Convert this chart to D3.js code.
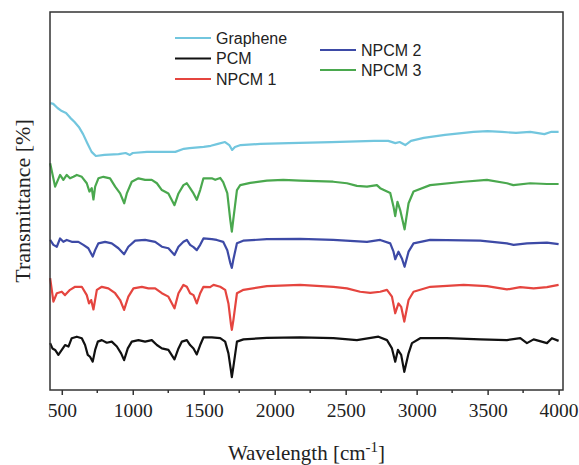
<!DOCTYPE html>
<html>
<head>
<meta charset="utf-8">
<script src="https://cdn.jsdelivr.net/npm/d3@7"></script>
<style>
 body{margin:0;background:#fff;}
 text{fill:#222;}
</style>
</head>
<body>
<div id="chart"></div>
<script>
// series names, colours and tick labels
var seriesNames = ["Graphene","PCM","NPCM 1","NPCM 2","NPCM 3"];
var seriesColors = ["#72c6de","#111111","#e5453f","#3d4aa6","#4aa84e"];
var xTicks = [500,1000,1500,2000,2500,3000,3500,4000];

// wavenumber [cm-1] , transmittance (stacked, arbitrary units)
var graphene = [[420,75.9],[440,75.7],[470,74.6],[500,73.8],[530,73.3],[560,72.0],[590,70.9],[620,69.6],[650,67.7],[680,65.3],[710,63.0],[740,61.9],[800,62.2],[900,62.4],[950,62.7],[980,62.2],[1000,62.7],[1100,63.0],[1200,63.0],[1300,63.0],[1360,63.8],[1400,64.0],[1500,64.3],[1550,64.6],[1600,65.1],[1650,65.6],[1680,64.8],[1700,63.5],[1720,64.3],[1760,64.8],[1900,65.1],[2100,65.3],[2400,65.6],[2700,65.9],[2800,65.9],[2850,65.3],[2880,65.6],[2920,64.8],[2960,65.9],[3050,66.7],[3200,67.5],[3400,68.3],[3500,68.5],[3600,68.3],[3700,68.0],[3800,68.3],[3900,67.7],[3950,68.3],[4000,68.3]];

var pcm = [[418,12.4],[434,11.0],[453,10.6],[476,9.3],[500,10.6],[523,11.9],[547,11.5],[570,13.7],[606,14.1],[641,13.7],[664,11.9],[683,9.3],[699,8.8],[718,7.5],[735,10.6],[754,12.8],[782,13.2],[817,12.5],[852,12.8],[888,11.5],[918,9.7],[939,7.9],[965,11.0],[993,12.8],[1040,13.2],[1087,12.8],[1134,13.2],[1170,11.9],[1205,11.0],[1251,10.6],[1294,8.1],[1322,11.0],[1346,12.8],[1381,13.2],[1404,11.9],[1428,11.0],[1451,9.4],[1475,11.9],[1498,13.9],[1557,13.9],[1616,13.7],[1651,12.8],[1674,9.7],[1691,5.3],[1698,3.4],[1709,6.2],[1734,12.8],[1780,13.4],[1945,13.8],[2179,13.9],[2414,13.7],[2579,13.2],[2731,14.1],[2791,13.2],[2826,11.0],[2849,7.5],[2868,10.6],[2891,9.3],[2913,4.8],[2943,9.7],[2967,12.4],[3025,13.7],[3213,13.7],[3448,13.4],[3636,13.2],[3730,13.7],[3777,12.4],[3824,13.4],[3918,12.4],[3953,13.7],[4000,13.0]];

var npcm1 = [[418,29.6],[441,23.4],[465,25.6],[500,26.0],[523,25.1],[558,26.5],[594,27.3],[641,27.3],[676,25.1],[692,22.9],[707,23.8],[723,21.3],[747,26.5],[782,27.3],[828,26.9],[876,25.6],[911,23.8],[939,21.2],[969,24.7],[1005,26.9],[1064,27.3],[1110,26.9],[1158,26.9],[1205,25.6],[1251,24.7],[1294,21.6],[1322,25.6],[1357,27.8],[1381,27.3],[1404,25.6],[1428,25.1],[1451,22.9],[1475,25.6],[1498,27.3],[1545,27.2],[1569,27.8],[1616,27.3],[1651,26.5],[1674,22.9],[1691,17.6],[1698,15.9],[1709,18.5],[1734,25.6],[1780,26.5],[1945,27.5],[2179,27.8],[2414,27.3],[2509,26.9],[2602,26.0],[2673,25.7],[2743,26.0],[2791,26.5],[2826,24.7],[2849,20.3],[2872,22.9],[2891,22.0],[2913,18.1],[2943,23.8],[2978,26.0],[3096,27.3],[3331,27.8],[3495,27.5],[3636,26.6],[3730,27.2],[3824,26.9],[3918,27.2],[4000,27.8]];

var npcm2 = [[418,39.7],[441,38.4],[465,37.9],[488,40.1],[511,39.2],[535,39.7],[570,39.2],[617,39.2],[652,38.4],[687,37.5],[718,35.3],[735,37.0],[758,38.8],[805,39.2],[852,38.8],[899,37.5],[939,35.9],[969,37.9],[1017,39.5],[1087,39.7],[1158,39.2],[1205,37.9],[1251,37.5],[1294,35.7],[1322,37.9],[1357,39.2],[1381,39.7],[1404,38.4],[1428,37.8],[1451,37.0],[1475,38.4],[1498,40.1],[1557,39.9],[1592,39.7],[1637,39.2],[1666,37.0],[1687,33.6],[1698,32.3],[1708,34.4],[1734,38.8],[1778,39.5],[1945,39.9],[2179,40.0],[2412,39.7],[2650,39.2],[2743,39.7],[2814,38.8],[2837,36.6],[2849,34.6],[2872,36.6],[2896,34.8],[2915,32.6],[2943,36.6],[2978,38.8],[3095,39.7],[3448,39.5],[3636,38.8],[3683,38.4],[3777,38.8],[3918,39.0],[4000,38.6]];

var npcm3 = [[418,60.0],[453,53.8],[488,56.9],[511,55.6],[535,56.9],[558,56.0],[582,56.4],[606,56.9],[641,56.4],[676,54.7],[695,52.5],[711,53.4],[723,50.4],[735,53.8],[758,56.0],[793,56.4],[840,56.0],[876,53.8],[911,52.0],[940,49.4],[958,52.0],[993,55.1],[1040,56.0],[1087,55.6],[1134,55.6],[1170,54.7],[1205,52.9],[1251,52.0],[1294,48.9],[1322,52.0],[1357,54.2],[1381,54.7],[1404,53.4],[1428,52.0],[1451,50.3],[1475,52.9],[1498,56.0],[1557,56.0],[1581,55.6],[1616,56.1],[1637,55.0],[1666,52.1],[1687,45.0],[1698,41.9],[1708,45.0],[1734,52.9],[1757,54.2],[1828,54.8],[1945,55.4],[2060,55.6],[2179,55.4],[2412,55.1],[2509,54.7],[2579,54.0],[2650,53.8],[2720,54.2],[2743,53.4],[2814,52.1],[2837,48.5],[2849,46.0],[2865,49.8],[2884,47.6],[2915,42.5],[2943,49.4],[2978,52.5],[3095,54.2],[3330,55.1],[3495,55.6],[3636,54.7],[3681,54.2],[3800,54.7],[3918,54.5],[4000,54.5]];

var seriesData = [graphene, pcm, npcm1, npcm2, npcm3];

function init(){
    var w = 579, h = 465;
    var left = 50, right = 563, top = 12, bottom = 390;

    var svg = d3.select("#chart").append("svg")
                .attr("width", w)
                .attr("height", h);

    var xScale = d3.scaleLinear()
                .domain([417, 4031])
                .range([left, right]);
    var yScale = d3.scaleLinear()
                .domain([0, 100])
                .range([bottom, top]);

    // lines
    var line = d3.line()
                .x(d => xScale(d[0]))
                .y(d => yScale(d[1]));

    svg.selectAll(".spec")
        .data(seriesData)
        .enter()
        .append("path")
        .attr("class","spec")
        .attr("d", line)
        .attr("fill","none")
        .attr("stroke",(d,i)=>seriesColors[i])
        .attr("stroke-width",2.2)
        .attr("stroke-linejoin","round");

    // frame
    svg.append("rect")
        .attr("x", left).attr("y", top)
        .attr("width", right-left).attr("height", bottom-top)
        .attr("fill","none")
        .attr("stroke","#333")
        .attr("stroke-width",1.5);

    // x axis with minor ticks
    var xAxis = d3.axisBottom(xScale)
                .tickValues(xTicks)
                .tickSize(5)
                .tickPadding(8)
                .tickFormat(d3.format("d"));
    var gx = svg.append("g")
        .attr("transform","translate(0,"+bottom+")")
        .call(xAxis);
    gx.select(".domain").remove();
    gx.selectAll(".tick line").attr("stroke","#333").attr("stroke-width",1.5);
    gx.selectAll(".tick text")
        .style("font-family","'Liberation Serif','Times New Roman',serif")
        .style("font-size","19.5px")
        .attr("fill","#222");

    var minor = d3.range(750, 4000, 500);
    svg.selectAll(".minor")
        .data(minor)
        .enter()
        .append("line")
        .attr("class","minor")
        .attr("x1", d=>xScale(d)).attr("x2", d=>xScale(d))
        .attr("y1", bottom).attr("y2", bottom+3)
        .attr("stroke","#333").attr("stroke-width",1.5);

    // axis titles
    var xt = svg.append("text")
        .attr("x", (left+right)/2)
        .attr("y", 460)
        .attr("text-anchor","middle")
        .style("font-family","'Liberation Serif','Times New Roman',serif")
        .style("font-size","21px");
    xt.append("tspan").text("Wavelength [cm");
    xt.append("tspan").attr("dy",-8).style("font-size","15px").text("-1");
    xt.append("tspan").attr("dy",8).text("]");

    svg.append("text")
        .attr("transform","translate(30,201) rotate(-90)")
        .attr("text-anchor","middle")
        .style("font-family","'Liberation Serif','Times New Roman',serif")
        .style("font-size","22px")
        .text("Transmittance [%]");

    // legend
    var legendPos = [[175,38],[175,58.5],[175,79],[320,50],[320,70]];
    var lg = svg.selectAll(".legend")
        .data(seriesNames)
        .enter()
        .append("g")
        .attr("class","legend")
        .attr("transform",(d,i)=>"translate("+legendPos[i][0]+","+legendPos[i][1]+")");
    lg.append("line")
        .attr("x1",0).attr("x2",36)
        .attr("stroke",(d,i)=>seriesColors[i])
        .attr("stroke-width",2.2);
    lg.append("text")
        .attr("x",41)
        .attr("dy","0.35em")
        .style("font-family","'Liberation Sans',Arial,sans-serif")
        .style("font-size","16px")
        .attr("fill","#333")
        .text(d=>d);
}
window.onload = init;
</script>
</body>
</html>
